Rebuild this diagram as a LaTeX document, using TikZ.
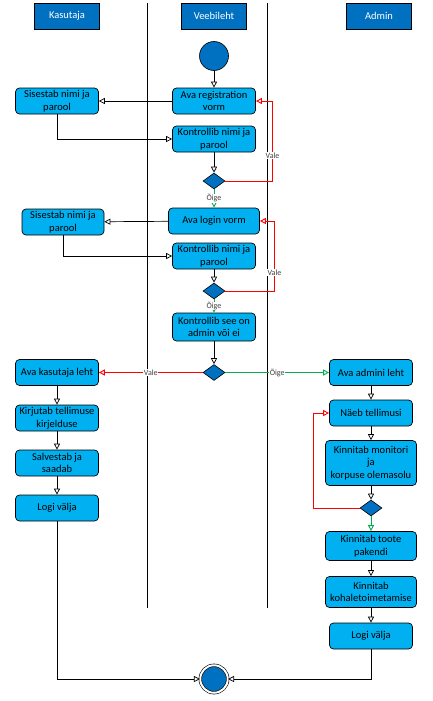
\documentclass[tikz,border=0pt]{standalone}
\usepackage{fontspec}
\setmainfont{Carlito}
\usetikzlibrary{arrows.meta,shapes.geometric}
\definecolor{laneblue}{HTML}{0070C0}
\definecolor{actblue}{HTML}{00B0F0}
\definecolor{okgreen}{HTML}{00B050}
\definecolor{nogray}{HTML}{404040}
\begin{document}
\begin{tikzpicture}[x=1pt,y=-1pt,
		act/.style={draw,fill=actblue,rounded corners=4pt,align=center,minimum width=83pt,minimum height=26pt,inner sep=1pt,line width=0.7pt,font=\fontsize{10.5}{12.5}\selectfont},
		wide/.style={act,minimum width=91pt},
		lanehead/.style={draw,fill=laneblue,text=white,minimum width=65pt,minimum height=26pt,line width=0.7pt,font=\fontsize{10.5}{12.5}\selectfont},
		choice/.style={diamond,draw,fill=laneblue,minimum width=22pt,minimum height=16pt,inner sep=0pt,line width=0.6pt},
		flow/.style={-{Triangle[open,length=6pt,width=6pt]},line width=0.7pt},
		yes/.style={flow,draw=okgreen,line width=0.9pt},
		no/.style={flow,draw=red,line width=0.9pt},
		guard/.style={fill=white,inner sep=0.5pt,text=nogray,font=\fontsize{8}{9}\selectfont}]
		\useasboundingbox (0,0) rectangle (433,701);
		\draw[line width=0.8pt] (147.5,3) -- (147.5,608);
		\draw[line width=0.8pt] (267.5,3) -- (267.5,608);
		\node[lanehead] (user) at (67,16) {Kasutaja};
		\node[lanehead] (web) at (214,16) {Veebileht};
		\node[lanehead] (admin) at (379,16) {Admin};

		\node[circle,draw,fill=laneblue,minimum size=29pt,line width=0.6pt] (start) at (214,56) {};
		\node[act] (regform) at (214,101) {Ava registration\\vorm};
		\node[act] (regin) at (57,101) {Sisestab nimi ja\\parool};
		\node[act] (regcheck) at (214,139) {Kontrollib nimi ja\\parool};
		\node[choice] (regok) at (214,181) {};
		\node[wide] (loginform) at (214,221) {Ava login vorm};
		\node[act,minimum width=82pt] (loginin) at (63,222) {Sisestab nimi ja\\parool};
		\node[act] (logincheck) at (214,256) {Kontrollib nimi ja\\parool};
		\node[choice] (loginok) at (214,291) {};
		\node[act,minimum height=28pt] (rolecheck) at (214,327) {Kontrollib see on\\admin või ei};
		\node[choice] (isadmin) at (214,372.5) {};

		\node[act] (userpage) at (57,372.5) {Ava kasutaja leht};
		\node[act] (order) at (57,418) {Kirjutab tellimuse\\kirjelduse};
		\node[act] (save) at (57,463) {Salvestab ja\\saadab};
		\node[act] (userout) at (57,508) {Logi välja};

		\node[act] (adminpage) at (371,372.5) {Ava admini leht};
		\node[act] (orders) at (371,413) {Näeb tellimusi};
		\node[wide,minimum height=45pt] (stock) at (371,463) {Kinnitab monitori\\ja\\korpuse olemasolu};
		\node[choice] (stockok) at (371,508) {};
		\node[wide,minimum height=29pt] (pack) at (371,546) {Kinnitab toote\\pakendi};
		\node[wide,minimum height=31pt] (deliver) at (371,592) {Kinnitab\\kohaletoimetamise};
		\node[act] (adminout) at (371,636) {Logi välja};

		\node[circle,draw,fill=laneblue,double,double distance=2pt,line width=0.6pt,minimum size=27.5pt] (stop) at (214,679) {};

		\draw[flow] (start) -- (regform);
		\draw[flow] (regform) -- (regin);
		\draw[flow] (regin.south) |- (regcheck.west);
		\draw[flow] (regcheck) -- (regok);
		\draw[no] (regok.east) -| ([xshift=16.7pt]regform.east) -- (regform.east);
		\path (regok.east) -| node[guard,pos=0.66] {Vale} ([xshift=16.7pt]regform.east);
		\draw[yes] (regok) -- (loginform);
		\path (regok) -- node[guard] {Õige} (loginform);
		\draw[flow] (loginform) -- (loginin);
		\draw[flow] (loginin.south) |- (logincheck.west);
		\draw[flow] (logincheck) -- (loginok);
		\draw[no] (loginok.east) -| ([xshift=14.6pt]loginform.east) -- (loginform.east);
		\path (loginok.east) -| node[guard,pos=0.63] {Vale} ([xshift=14.6pt]loginform.east);
		\draw[yes] (loginok) -- (rolecheck);
		\path (loginok) -- node[guard] {Õige} (rolecheck);
		\draw[flow] (rolecheck) -- (isadmin);
		\draw[no] (isadmin) -- (userpage);
		\path (isadmin) -- node[guard] {Vale} (userpage);
		\draw[yes] (isadmin) -- (adminpage);
		\path (isadmin) -- node[guard] {Õige} (adminpage);

		\draw[flow] (userpage) -- (order);
		\draw[flow] (order) -- (save);
		\draw[flow] (save) -- (userout);
		\draw[flow] (userout.south) |- (stop.west);

		\draw[flow] (adminpage) -- (orders);
		\draw[flow] (orders) -- (stock);
		\draw[flow] (stock) -- (stockok);
		\draw[no] (stockok.west) -| ([xshift=-15.6pt]orders.west) -- (orders.west);
		\draw[yes] (stockok) -- (pack);
		\draw[flow] (pack) -- (deliver);
		\draw[flow] (deliver) -- (adminout);
		\draw[flow] (adminout.south) |- (stop.east);
\end{tikzpicture}
\end{document}
